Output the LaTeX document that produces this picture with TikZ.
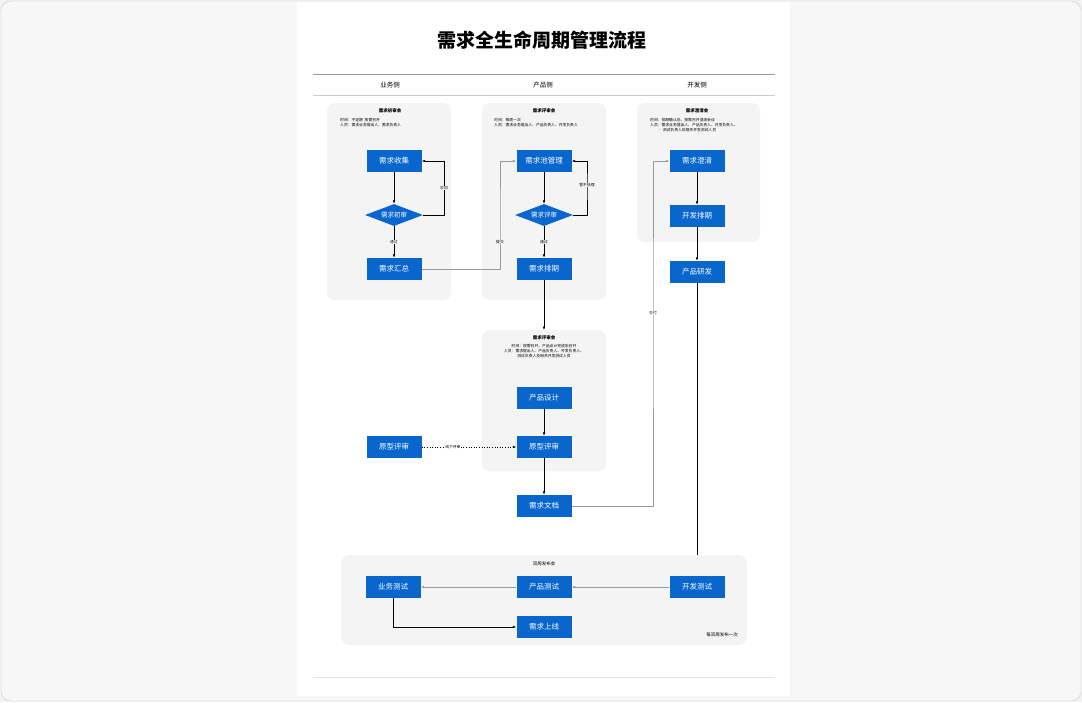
\documentclass[tikz,border=0pt]{standalone}
\usepackage{fontspec}
\setmainfont{Noto Sans CJK SC}
\usetikzlibrary{shapes.geometric,arrows.meta}
\definecolor{nb}{HTML}{0866CC}
\definecolor{pg}{HTML}{F4F4F4}
\begin{document}
\begin{tikzpicture}[x=1pt,y=-1pt,
 box/.style={fill=nb,text=white,minimum width=55pt,minimum height=22pt,inner sep=0pt,font=\fontsize{7.5}{8}\selectfont},
 dia/.style={diamond,aspect=2.6,fill=nb,text=white,inner sep=0pt,minimum width=58pt,minimum height=22pt,font=\fontsize{6.5}{7}\selectfont},
 panel/.style={fill=pg,rounded corners=8pt},
 ptitle/.style={font=\fontsize{4.5}{5}\selectfont\bfseries},
 pinfo/.style={font=\fontsize{3.8}{5}\selectfont,align=left,anchor=north west,inner sep=0pt},
 lbl/.style={font=\fontsize{3.8}{4}\selectfont,fill=white,inner sep=0.5pt},
 ar/.style={-{Latex[length=3.5pt]},line width=0.6pt},
 gar/.style={-{Latex[length=3.5pt]},line width=0.8pt,draw=black!40}]
\useasboundingbox (0,0) rectangle (1082,702);
\fill[black!5] (0,0) rectangle (1082,702);
\draw[black!20,fill=white!97!black,rounded corners=10pt] (1,1) rectangle (1081,701);
\fill[white] (297,2) rectangle (790,696);
\node[font=\fontsize{19}{21}\selectfont\bfseries] (title) at (542,40) {需求全生命周期管理流程};
\draw[black!40,line width=0.5pt] (313,74) -- (775,74);
\draw[black!20,line width=0.4pt] (313,95) -- (775,95);
\draw[black!10,line width=0.4pt] (313,677) -- (775,677);
\node[font=\fontsize{6.5}{7}\selectfont] (h1) at (390,85) {业务侧};
\node[font=\fontsize{6.5}{7}\selectfont] (h2) at (543,85) {产品侧};
\node[font=\fontsize{6.5}{7}\selectfont] (h3) at (697,85) {开发侧};
% panels
\fill[panel] (327,103) rectangle (451,300);
\fill[panel] (482,103) rectangle (606,300);
\fill[panel] (637,103) rectangle (760,242);
\fill[panel] (482,330) rectangle (606,471);
\fill[panel] (341,555) rectangle (747,645);
\node[ptitle] (pa) at (390,111) {需求初审会};
\node[pinfo] (pai) at (340,118) {时间：不定期 \ 按需召开\\人员：需求业务提出人、需求负责人};
\node[ptitle] (pb) at (544,111) {需求评审会};
\node[pinfo] (pbi) at (494,118) {时间：每周一次\\人员：需求业务提出人、产品负责人、开发负责人};
\node[ptitle] (pc) at (697,111) {需求澄清会};
\node[pinfo] (pci) at (650,118) {时间：排期确认后，按需召开澄清会议\\人员：需求业务提出人、产品负责人、开发负责人、\\\hspace*{8pt}• 测试负责人及相关开发测试人员};
\node[ptitle] (pd) at (544,338) {需求评审会};
\node[pinfo,align=center,anchor=north] (pdi) at (544,344) {时间：按需召开，产品设计完成后召开\\人员：需求提出人、产品负责人、开发负责人、\\测试负责人及相关开发测试人员};
\node[ptitle,font=\fontsize{4.5}{5}\selectfont] (pe) at (544,564) {双周发布会};
\node[font=\fontsize{4.5}{5}\selectfont] (note) at (722,635) {每双周发布一次};
% nodes
\node[box] (sj) at (394,161) {需求收集};
\node[dia] (cs) at (394,215) {需求初审};
\node[box] (hz) at (394,269) {需求汇总};
\node[box] (cgl) at (544,161) {需求池管理};
\node[dia] (ps) at (544,215) {需求评审};
\node[box] (pq) at (544,269) {需求排期};
\node[box] (cq) at (697,161) {需求澄清};
\node[box] (kp) at (697,216) {开发排期};
\node[box] (yf) at (697,272) {产品研发};
\node[box] (sj2) at (544,398) {产品设计};
\node[box] (yx) at (544,447) {原型评审};
\node[box] (yxl) at (394,447) {原型评审};
\node[box] (wd) at (544,506) {需求文档};
\node[box] (yw) at (393,587) {业务测试};
\node[box] (cp) at (544,587) {产品测试};
\node[box] (kf) at (697,587) {开发测试};
\node[box] (sx) at (544,627) {需求上线};
\coordinate (dtop) at (544,330);
\coordinate (etop) at (697,555);
% edges
\draw[ar] (sj) -- (cs);
\draw[ar] (cs.east) -| (444,161) node[lbl,pos=0.75] {驳回} -- (sj.east);
\draw[ar] (cs) -- node[lbl] {通过} (hz);
\draw[gar] (hz.east) -| (500,215) node[lbl,pos=0.75,fill=pg] {提交} |- (cgl.west);
\draw[ar] (cgl) -- (ps);
\draw[ar] (ps.east) -| (587,185) node[lbl,fill=pg] {暂不处理} |- (cgl.east);
\draw[ar] (ps) -- node[lbl,fill=pg] {通过} (pq);
\draw[ar] (pq) -- (dtop);
\draw[ar] (sj2) -- (yx);
\draw[ar,dotted] (yxl) -- node[lbl,pos=0.33] {线下评审} (yx);
\draw[ar] (yx) -- (wd);
\draw[gar] (wd.east) -| (653,313) node[lbl] {交付} |- (cq.west);
\draw[ar] (cq) -- (kp);
\draw[ar] (kp) -- (yf);
\draw[line width=0.6pt] (yf) -- (etop);
\draw[gar] (kf) -- (cp);
\draw[gar] (cp) -- (yw);
\draw[ar] (yw.south) |- (sx.west);
\end{tikzpicture}
\end{document}
